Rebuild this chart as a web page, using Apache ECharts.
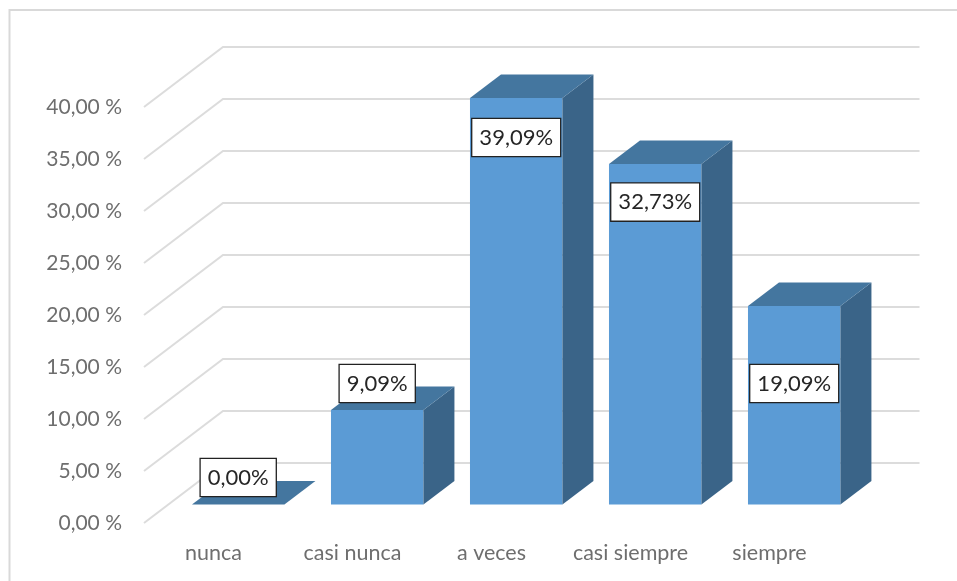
<!DOCTYPE html>
<html>
<head>
<meta charset="utf-8">
<style>
html, body { margin: 0; padding: 0; background: #fff; }
#chart { width: 957px; height: 581px; }
</style>
<script src="https://cdn.jsdelivr.net/npm/echarts@6/dist/echarts.min.js"></script>
</head>
<body>
<div id="chart"></div>
<script>
var categories = ['nunca', 'casi nunca', 'a veces', 'casi siempre', 'siempre']
var values = [0, 9.09, 39.09, 32.73, 19.09]
var valueLabels = ['0,00%', '9,09%', '39,09%', '32,73%', '19,09%']
var yTicks = [0, 5, 10, 15, 20, 25, 30, 35, 40]

// the labels were moved by hand in the original, px from the top of the bar
var labelShift = [-27, -26.5, 39.5, 38, 77.5]

var FONT = 'Lato'
var WALL_DX = 79, WALL_DY = -60   // side wall depth
var BAR_DX = 24.7, BAR_DY = -18.5   // bars stand a bit behind the front edge
var BAR_DEPTH_X = 31, BAR_DEPTH_Y = -23.5
var BAR_RATIO = 0.665

function renderWall(params, api) {
  var p = api.coord([0, api.value(0)])
  var left = api.coord([0, 0])[0] - api.size([1, 0])[0] / 2
  var right = left + params.coordSys.width
  return {
    type: 'polyline',
    shape: { points: [[left, p[1]], [left + WALL_DX, p[1] + WALL_DY], [right + WALL_DX + 1.5, p[1] + WALL_DY]] },
    style: { stroke: '#dcdcdc', lineWidth: 2, fill: null }
  }
}

function renderBar(params, api) {
  var i = api.value(0)
  var w = api.size([1, 0])[0] * BAR_RATIO
  var top = api.coord([i, api.value(1)])
  var bottom = api.coord([i, 0])
  var x0 = top[0] + BAR_DX - w / 2
  var x1 = x0 + w
  var yT = top[1] + BAR_DY
  var yB = bottom[1] + BAR_DY
  var dx = BAR_DEPTH_X, dy = BAR_DEPTH_Y
  var children = []
  if (yB - yT > 0) {
    children.push({
      type: 'rect',
      shape: { x: x0, y: yT, width: w, height: yB - yT },
      style: { fill: '#5b9bd5' }
    })
    children.push({
      type: 'polygon',
      shape: { points: [[x1, yT], [x1 + dx, yT + dy], [x1 + dx, yB + dy], [x1, yB]] },
      style: { fill: '#3a6488' }
    })
  }
  children.push({
    type: 'polygon',
    shape: { points: [[x0, yT], [x0 + dx, yT + dy], [x1 + dx, yT + dy], [x1, yT]] },
    style: { fill: '#44769f' }
  })
  children.push({
    type: 'text',
    z2: 10,
    style: {
      x: x0 + w / 2,
      y: yT + labelShift[i],
      text: valueLabels[i],
      align: 'center',
      verticalAlign: 'middle',
      font: '22px ' + FONT,
      fill: '#262626',
      backgroundColor: '#fff',
      borderColor: '#222',
      borderWidth: 1.3,
      padding: [8, 7, 7, 7]
    }
  })
  return { type: 'group', children: children }
}

var myChart = echarts.init(document.getElementById('chart'), null, { renderer: 'canvas' })
var option = {
  animation: false,
  backgroundColor: '#fff',
  textStyle: { fontFamily: FONT },
  grid: { left: 144, right: 118, top: 107, bottom: 58, containLabel: false },
  xAxis: {
    type: 'category',
    data: categories,
    axisLine: { show: false },
    axisTick: { show: false },
    axisLabel: { color: '#6e6e6e', fontSize: 21.5, fontFamily: FONT, margin: 19, interval: 0 }
  },
  yAxis: {
    type: 'value',
    min: 0,
    max: 40,
    interval: 5,
    splitLine: { show: false },
    axisLine: { show: false },
    axisTick: { show: false },
    axisLabel: {
      color: '#6e6e6e',
      fontSize: 21,
      fontFamily: FONT,
      margin: 22,
      padding: [5, 0, 0, 0],
      formatter: function (v) { return v.toFixed(2).replace('.', ',') + ' %' }
    }
  },
  graphic: [{
    type: 'polyline',
    silent: true,
    shape: { points: [[9.5, 581], [9.5, 10], [957, 10]] },
    style: { stroke: '#d9d9d9', lineWidth: 2, fill: null }
  }],
  series: [
    {
      type: 'custom',
      data: yTicks.map(function (t) { return [t] }),
      encode: { y: 0 },
      renderItem: renderWall,
      silent: true,
      z: 1
    },
    {
      type: 'custom',
      data: values.map(function (v, i) { return [i, v] }),
      encode: { x: 0, y: 1 },
      renderItem: renderBar,
      silent: true,
      z: 2
    }
  ]
}
myChart.setOption(option)
</script>
</body>
</html>
